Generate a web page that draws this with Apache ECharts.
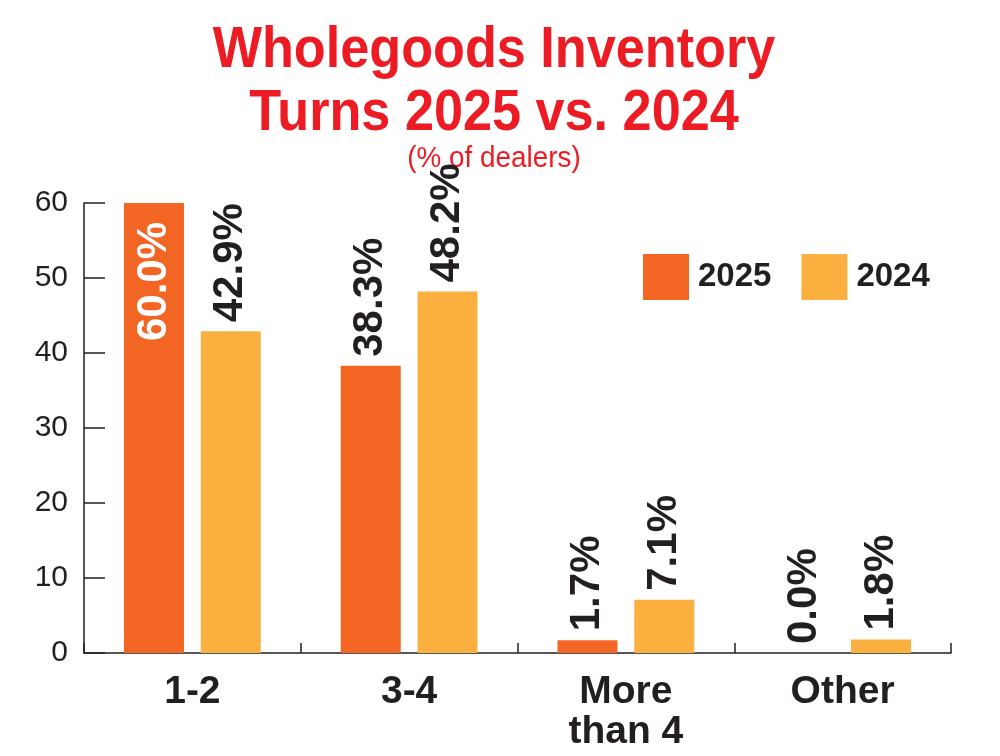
<!DOCTYPE html>
<html>
<head>
<meta charset="utf-8">
<script src="https://cdn.jsdelivr.net/npm/echarts@6/dist/echarts.min.js"></script>
<style>html,body{margin:0;padding:0;background:#fff}#c{width:1000px;height:756px}</style>
</head>
<body>
<div id="c"></div>
<script>
const titleLines = ['Wholegoods Inventory', 'Turns 2025 vs. 2024'];
const subtitle = '(% of dealers)';
const categories = ['1-2', '3-4', 'More\nthan 4', 'Other'];
const seriesNames = ['2025', '2024'];
const values2025 = [60.0, 38.3, 1.7, 0.0];
const values2024 = [42.9, 48.2, 7.1, 1.8];
const yTicks = [0, 10, 20, 30, 40, 50, 60];

const SANS = '"Liberation Sans", Arial, sans-serif';
const INK = '#231f20';
const RED = '#ed1c24';
const ORANGE = '#f26522';
const YELLOW = '#fbb040';

const chart = echarts.init(document.getElementById('c'), null, {renderer: 'canvas'});

function labelFmt(p) { return p.value.toFixed(1) + '%'; }

const baseLabel = {
  show: true, position: 'top', rotate: 90, align: 'left', verticalAlign: 'middle',
  distance: 9, fontFamily: SANS, fontWeight: 'bold', fontSize: 42, color: INK,
  formatter: labelFmt
};

const data2025 = values2025.map((v, i) => i === 0 ? {
  value: v,
  label: {position: 'insideTop', align: 'right', color: '#fff', distance: 19}
} : v);

chart.setOption({
  backgroundColor: '#fff',
  animation: false,
  graphic: [
    {type: 'text', x: 494, y: 19, scaleX: 0.9, style: {text: titleLines.join('\n'), textAlign: 'center', textVerticalAlign: 'top',
      fill: RED, font: 'bold 58px ' + SANS, lineHeight: 63}},
    {type: 'text', x: 494, y: 144, scaleX: 0.96, style: {text: subtitle, textAlign: 'center', textVerticalAlign: 'top',
      fill: RED, font: '29px ' + SANS}}
  ],
  legend: {
    data: seriesNames, left: 638, top: 249, itemWidth: 46, itemHeight: 46, itemGap: 30,
    icon: 'rect',
    textStyle: {fontFamily: SANS, fontWeight: 'bold', fontSize: 33, color: INK, padding: [0, 0, 0, 4]}
  },
  grid: {left: 84, right: 49, top: 203, bottom: 103, containLabel: false},
  xAxis: {
    type: 'category', data: categories,
    axisLine: {lineStyle: {color: INK, width: 1.5}},
    axisTick: {show: true, inside: true, length: 10, lineStyle: {color: INK, width: 1.5}},
    axisLabel: {fontFamily: SANS, fontWeight: 'bold', fontSize: 39, lineHeight: 40, color: INK, margin: 19, interval: 0}
  },
  yAxis: {
    type: 'value', min: 0, max: 60, interval: 10,
    axisLine: {show: true, lineStyle: {color: INK, width: 1.5}},
    axisTick: {show: true, inside: true, length: 21, lineStyle: {color: INK, width: 1.5}},
    splitLine: {show: false},
    axisLabel: {fontFamily: SANS, fontSize: 30, color: INK, margin: 16,
      formatter: v => yTicks.includes(v) ? String(v) : ''}
  },
  series: [
    {name: seriesNames[0], type: 'bar', data: data2025, barWidth: 60, barGap: '28%',
      itemStyle: {color: ORANGE}, label: baseLabel},
    {name: seriesNames[1], type: 'bar', data: values2024, barWidth: 60,
      itemStyle: {color: YELLOW}, label: baseLabel}
  ]
});
</script>
</body>
</html>
